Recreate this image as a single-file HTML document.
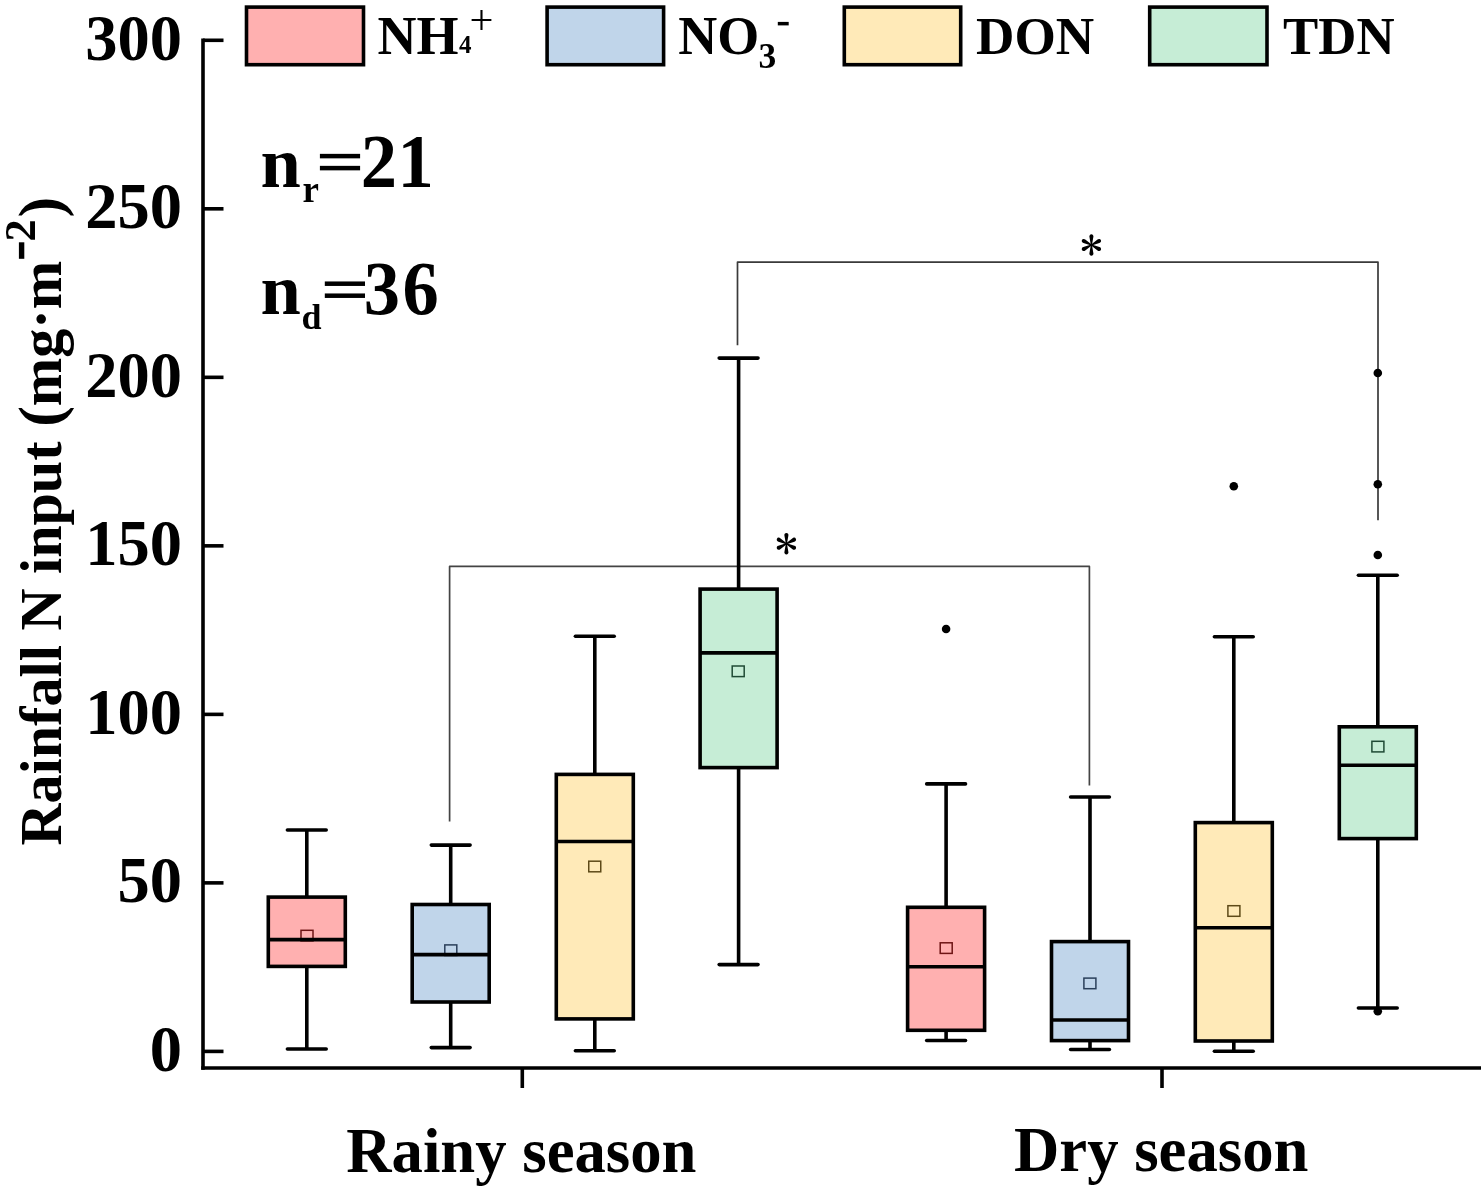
<!DOCTYPE html>
<html><head><meta charset="utf-8"><style>
html,body{margin:0;padding:0;background:#fff;}
body{width:1484px;height:1187px;overflow:hidden;font-family:"Liberation Serif",serif;}
svg{display:block;will-change:transform;}
</style></head><body>
<svg width="1484" height="1187" viewBox="0 0 1484 1187">
<path d="M449.6 821.5 V566.4 H1089.4 V785.5" fill="none" stroke="#444" stroke-width="1.7" stroke-linejoin="round"/>
<path d="M737.5 345.3 V262.1 H1378.0 V520.3" fill="none" stroke="#3a3a3a" stroke-width="1.7" stroke-linejoin="round"/>
<line x1="306.8" y1="830.0" x2="306.8" y2="897.0999999999999" stroke="#000" stroke-width="3.6"/>
<line x1="306.8" y1="966.4000000000001" x2="306.8" y2="1049.0" stroke="#000" stroke-width="3.6"/>
<line x1="287.40" y1="830.0" x2="326.20" y2="830.0" stroke="#000" stroke-width="3.6" stroke-linecap="round"/>
<line x1="287.40" y1="1049.0" x2="326.20" y2="1049.0" stroke="#000" stroke-width="3.6" stroke-linecap="round"/>
<rect x="268.30" y="897.10" width="77" height="69.30" fill="#FFB0B0" stroke="#000" stroke-width="3.6"/>
<rect x="301.00" y="930.30" width="12" height="10.6" fill="none" stroke="#6e1414" stroke-width="1.5"/>
<line x1="268.30" y1="939.6" x2="345.30" y2="939.6" stroke="#000" stroke-width="3.6"/>
<line x1="450.7" y1="845.1" x2="450.7" y2="904.5" stroke="#000" stroke-width="3.6"/>
<line x1="450.7" y1="1002.0000000000001" x2="450.7" y2="1047.6" stroke="#000" stroke-width="3.6"/>
<line x1="431.30" y1="845.1" x2="470.10" y2="845.1" stroke="#000" stroke-width="3.6" stroke-linecap="round"/>
<line x1="431.30" y1="1047.6" x2="470.10" y2="1047.6" stroke="#000" stroke-width="3.6" stroke-linecap="round"/>
<rect x="412.20" y="904.50" width="77" height="97.50" fill="#C0D5EA" stroke="#000" stroke-width="3.6"/>
<rect x="444.80" y="944.90" width="12" height="10.6" fill="none" stroke="#2a3f5a" stroke-width="1.5"/>
<line x1="412.20" y1="954.6" x2="489.20" y2="954.6" stroke="#000" stroke-width="3.6"/>
<line x1="594.8" y1="636.3" x2="594.8" y2="774.4" stroke="#000" stroke-width="3.6"/>
<line x1="594.8" y1="1018.9000000000001" x2="594.8" y2="1050.7" stroke="#000" stroke-width="3.6"/>
<line x1="575.40" y1="636.3" x2="614.20" y2="636.3" stroke="#000" stroke-width="3.6" stroke-linecap="round"/>
<line x1="575.40" y1="1050.7" x2="614.20" y2="1050.7" stroke="#000" stroke-width="3.6" stroke-linecap="round"/>
<rect x="556.30" y="774.40" width="77" height="244.50" fill="#FFEAB8" stroke="#000" stroke-width="3.6"/>
<rect x="588.75" y="861.20" width="12" height="10.6" fill="none" stroke="#5e4a18" stroke-width="1.5"/>
<line x1="556.30" y1="841.5" x2="633.30" y2="841.5" stroke="#000" stroke-width="3.6"/>
<line x1="738.6" y1="358.1" x2="738.6" y2="589.0999999999999" stroke="#000" stroke-width="3.6"/>
<line x1="738.6" y1="767.6000000000001" x2="738.6" y2="964.6" stroke="#000" stroke-width="3.6"/>
<line x1="719.20" y1="358.1" x2="758.00" y2="358.1" stroke="#000" stroke-width="3.6" stroke-linecap="round"/>
<line x1="719.20" y1="964.6" x2="758.00" y2="964.6" stroke="#000" stroke-width="3.6" stroke-linecap="round"/>
<rect x="700.10" y="589.10" width="77" height="178.50" fill="#C6EDD6" stroke="#000" stroke-width="3.6"/>
<rect x="732.20" y="666.00" width="12" height="10.6" fill="none" stroke="#1f4a35" stroke-width="1.5"/>
<line x1="700.10" y1="652.9" x2="777.10" y2="652.9" stroke="#000" stroke-width="3.6"/>
<line x1="946.1" y1="783.9" x2="946.1" y2="907.3" stroke="#000" stroke-width="3.6"/>
<line x1="946.1" y1="1030.3000000000002" x2="946.1" y2="1040.5" stroke="#000" stroke-width="3.6"/>
<line x1="926.70" y1="783.9" x2="965.50" y2="783.9" stroke="#000" stroke-width="3.6" stroke-linecap="round"/>
<line x1="926.70" y1="1040.5" x2="965.50" y2="1040.5" stroke="#000" stroke-width="3.6" stroke-linecap="round"/>
<rect x="907.60" y="907.30" width="77" height="123.00" fill="#FFB0B0" stroke="#000" stroke-width="3.6"/>
<rect x="940.20" y="942.80" width="12" height="10.6" fill="none" stroke="#6e1414" stroke-width="1.5"/>
<line x1="907.60" y1="966.8" x2="984.60" y2="966.8" stroke="#000" stroke-width="3.6"/>
<circle cx="946.1" cy="629.0" r="4.3" fill="#000"/>
<line x1="1090.0" y1="797.0" x2="1090.0" y2="941.5999999999999" stroke="#000" stroke-width="3.6"/>
<line x1="1090.0" y1="1040.6000000000001" x2="1090.0" y2="1049.5" stroke="#000" stroke-width="3.6"/>
<line x1="1070.60" y1="797.0" x2="1109.40" y2="797.0" stroke="#000" stroke-width="3.6" stroke-linecap="round"/>
<line x1="1070.60" y1="1049.5" x2="1109.40" y2="1049.5" stroke="#000" stroke-width="3.6" stroke-linecap="round"/>
<rect x="1051.50" y="941.60" width="77" height="99.00" fill="#C0D5EA" stroke="#000" stroke-width="3.6"/>
<rect x="1083.90" y="978.10" width="12" height="10.6" fill="none" stroke="#2a3f5a" stroke-width="1.5"/>
<line x1="1051.50" y1="1020.0" x2="1128.50" y2="1020.0" stroke="#000" stroke-width="3.6"/>
<line x1="1233.8" y1="636.7" x2="1233.8" y2="822.5999999999999" stroke="#000" stroke-width="3.6"/>
<line x1="1233.8" y1="1041.0" x2="1233.8" y2="1051.3" stroke="#000" stroke-width="3.6"/>
<line x1="1214.40" y1="636.7" x2="1253.20" y2="636.7" stroke="#000" stroke-width="3.6" stroke-linecap="round"/>
<line x1="1214.40" y1="1051.3" x2="1253.20" y2="1051.3" stroke="#000" stroke-width="3.6" stroke-linecap="round"/>
<rect x="1195.30" y="822.60" width="77" height="218.40" fill="#FFEAB8" stroke="#000" stroke-width="3.6"/>
<rect x="1227.90" y="905.70" width="12" height="10.6" fill="none" stroke="#5e4a18" stroke-width="1.5"/>
<line x1="1195.30" y1="927.8" x2="1272.30" y2="927.8" stroke="#000" stroke-width="3.6"/>
<circle cx="1233.8" cy="486.3" r="4.3" fill="#000"/>
<line x1="1377.8" y1="575.3" x2="1377.8" y2="726.8" stroke="#000" stroke-width="3.6"/>
<line x1="1377.8" y1="838.6000000000001" x2="1377.8" y2="1008.0" stroke="#000" stroke-width="3.6"/>
<line x1="1358.40" y1="575.3" x2="1397.20" y2="575.3" stroke="#000" stroke-width="3.6" stroke-linecap="round"/>
<line x1="1358.40" y1="1008.0" x2="1397.20" y2="1008.0" stroke="#000" stroke-width="3.6" stroke-linecap="round"/>
<rect x="1339.30" y="726.80" width="77" height="111.80" fill="#C6EDD6" stroke="#000" stroke-width="3.6"/>
<rect x="1371.90" y="741.30" width="12" height="10.6" fill="none" stroke="#1f4a35" stroke-width="1.5"/>
<line x1="1339.30" y1="765.3" x2="1416.30" y2="765.3" stroke="#000" stroke-width="3.6"/>
<circle cx="1377.8" cy="373.0" r="4.3" fill="#000"/>
<circle cx="1377.8" cy="484.3" r="4.3" fill="#000"/>
<circle cx="1377.8" cy="555.0" r="4.3" fill="#000"/>
<circle cx="1377.8" cy="1011.3" r="4.3" fill="#000"/>
<line x1="203" y1="38.5" x2="203" y2="1069.8" stroke="#000" stroke-width="3.6"/>
<line x1="201.2" y1="1068" x2="1481" y2="1068" stroke="#000" stroke-width="3.6"/>
<line x1="203" y1="40.30" x2="223.5" y2="40.30" stroke="#000" stroke-width="3.6"/>
<line x1="203" y1="208.82" x2="223.5" y2="208.82" stroke="#000" stroke-width="3.6"/>
<line x1="203" y1="377.33" x2="223.5" y2="377.33" stroke="#000" stroke-width="3.6"/>
<line x1="203" y1="545.85" x2="223.5" y2="545.85" stroke="#000" stroke-width="3.6"/>
<line x1="203" y1="714.37" x2="223.5" y2="714.37" stroke="#000" stroke-width="3.6"/>
<line x1="203" y1="882.88" x2="223.5" y2="882.88" stroke="#000" stroke-width="3.6"/>
<line x1="203" y1="1051.40" x2="223.5" y2="1051.40" stroke="#000" stroke-width="3.6"/>
<line x1="522.3" y1="1068" x2="522.3" y2="1088" stroke="#000" stroke-width="3.6"/>
<line x1="1162" y1="1068" x2="1162" y2="1088" stroke="#000" stroke-width="3.6"/>
<text x="85.31" y="59.50" font-family="Liberation Serif" font-weight="bold" font-size="64.5" >300</text>
<text x="85.31" y="228.02" font-family="Liberation Serif" font-weight="bold" font-size="64.5" >250</text>
<text x="85.31" y="396.53" font-family="Liberation Serif" font-weight="bold" font-size="64.5" >200</text>
<text x="85.31" y="565.05" font-family="Liberation Serif" font-weight="bold" font-size="64.5" >150</text>
<text x="85.31" y="733.57" font-family="Liberation Serif" font-weight="bold" font-size="64.5" >100</text>
<text x="117.56" y="902.08" font-family="Liberation Serif" font-weight="bold" font-size="64.5" >50</text>
<text x="149.81" y="1070.60" font-family="Liberation Serif" font-weight="bold" font-size="64.5" >0</text>
<text x="346.33" y="1171.50" font-family="Liberation Serif" font-weight="bold" font-size="62.7" >Rainy season</text>
<text x="1014.10" y="1171.00" font-family="Liberation Serif" font-weight="bold" font-size="62.7" >Dry season</text>
<g transform="translate(61.3,844.6) rotate(-90)"><text x="-0.99" y="0" font-family="Liberation Serif" font-weight="bold" font-size="58.2">Rainfall N input <tspan font-size="62">(</tspan>mg·m</text><rect x="585.8" y="-42.4" width="16.5" height="5.4" fill="#000"/><text x="603.14" y="-26.2" font-family="Liberation Serif" font-weight="bold" font-size="44.4">2</text><text x="627.00" y="0" font-family="Liberation Serif" font-weight="bold" font-size="62">)</text></g>
<text x="260.45" y="186.70" font-family="Liberation Serif" font-weight="bold" font-size="72.5" >n</text>
<text x="302.41" y="202.20" font-family="Liberation Serif" font-weight="bold" font-size="37" >r</text>
<rect x="319.9" y="153.85" width="40.2" height="4.5" fill="#000"/>
<rect x="319.9" y="165.85" width="40.2" height="4.5" fill="#000"/>
<text transform="translate(360.76,186.7) scale(1,1.04)" x="0" y="0" font-family="Liberation Serif" font-weight="bold" font-size="72.5">2</text>
<text transform="translate(397.49,186.7) scale(1,1.04)" x="0" y="0" font-family="Liberation Serif" font-weight="bold" font-size="72.5">1</text>
<text x="260.45" y="314.30" font-family="Liberation Serif" font-weight="bold" font-size="72.5" >n</text>
<text x="301.54" y="329.30" font-family="Liberation Serif" font-weight="bold" font-size="36" >d</text>
<rect x="324.8" y="281.45" width="40.2" height="4.5" fill="#000"/>
<rect x="324.8" y="293.45" width="40.2" height="4.5" fill="#000"/>
<text transform="translate(363.67,314.3) scale(1,1.04)" x="0" y="0" font-family="Liberation Serif" font-weight="bold" font-size="72.5">3</text>
<text transform="translate(402.42,314.3) scale(1,1.04)" x="0" y="0" font-family="Liberation Serif" font-weight="bold" font-size="72.5">6</text>
<g transform="translate(786.4,543.7)"><path d="M -0.55 0 L -1.95 -8.0 A 2.05 2.05 0 1 1 1.95 -8.0 L 0.55 0 Z" transform="rotate(0)" fill="#000"/><path d="M -0.55 0 L -1.95 -8.0 A 2.05 2.05 0 1 1 1.95 -8.0 L 0.55 0 Z" transform="rotate(62)" fill="#000"/><path d="M -0.55 0 L -1.95 -8.0 A 2.05 2.05 0 1 1 1.95 -8.0 L 0.55 0 Z" transform="rotate(118)" fill="#000"/><path d="M -0.55 0 L -1.95 -8.0 A 2.05 2.05 0 1 1 1.95 -8.0 L 0.55 0 Z" transform="rotate(180)" fill="#000"/><path d="M -0.55 0 L -1.95 -8.0 A 2.05 2.05 0 1 1 1.95 -8.0 L 0.55 0 Z" transform="rotate(242)" fill="#000"/><path d="M -0.55 0 L -1.95 -8.0 A 2.05 2.05 0 1 1 1.95 -8.0 L 0.55 0 Z" transform="rotate(298)" fill="#000"/><circle r="1.1" fill="#000"/></g>
<g transform="translate(1091.4,245.0)"><path d="M -0.55 0 L -1.95 -8.0 A 2.05 2.05 0 1 1 1.95 -8.0 L 0.55 0 Z" transform="rotate(0)" fill="#000"/><path d="M -0.55 0 L -1.95 -8.0 A 2.05 2.05 0 1 1 1.95 -8.0 L 0.55 0 Z" transform="rotate(62)" fill="#000"/><path d="M -0.55 0 L -1.95 -8.0 A 2.05 2.05 0 1 1 1.95 -8.0 L 0.55 0 Z" transform="rotate(118)" fill="#000"/><path d="M -0.55 0 L -1.95 -8.0 A 2.05 2.05 0 1 1 1.95 -8.0 L 0.55 0 Z" transform="rotate(180)" fill="#000"/><path d="M -0.55 0 L -1.95 -8.0 A 2.05 2.05 0 1 1 1.95 -8.0 L 0.55 0 Z" transform="rotate(242)" fill="#000"/><path d="M -0.55 0 L -1.95 -8.0 A 2.05 2.05 0 1 1 1.95 -8.0 L 0.55 0 Z" transform="rotate(298)" fill="#000"/><circle r="1.1" fill="#000"/></g>
<rect x="246.50" y="7.10" width="117.00" height="57.60" fill="#FFB0B0" stroke="#000" stroke-width="3.6"/>
<rect x="547.10" y="7.10" width="116.50" height="57.60" fill="#C0D5EA" stroke="#000" stroke-width="3.6"/>
<rect x="844.30" y="7.10" width="116.40" height="57.60" fill="#FFEAB8" stroke="#000" stroke-width="3.6"/>
<rect x="1149.70" y="7.10" width="117.30" height="57.60" fill="#C6EDD6" stroke="#000" stroke-width="3.6"/>
<text x="377.57" y="53.90" font-family="Liberation Serif" font-weight="bold" font-size="54" >NH</text>
<text x="459.06" y="53.20" font-family="Liberation Serif" font-weight="bold" font-size="25" >4</text>
<text x="469.48" y="34.01" font-family="Liberation Serif" font-size="42.5">+</text>
<text x="678.37" y="53.90" font-family="Liberation Serif" font-weight="bold" font-size="54" >NO</text>
<text x="758.47" y="67.50" font-family="Liberation Serif" font-weight="bold" font-size="35.5" >3</text>
<rect x="777.8" y="21.9" width="10.9" height="3.5" fill="#000"/>
<text x="976.06" y="53.90" font-family="Liberation Serif" font-weight="bold" font-size="53.2" >DON</text>
<text x="1283.08" y="53.70" font-family="Liberation Serif" font-weight="bold" font-size="52.8" >TDN</text>
</svg>
</body></html>
